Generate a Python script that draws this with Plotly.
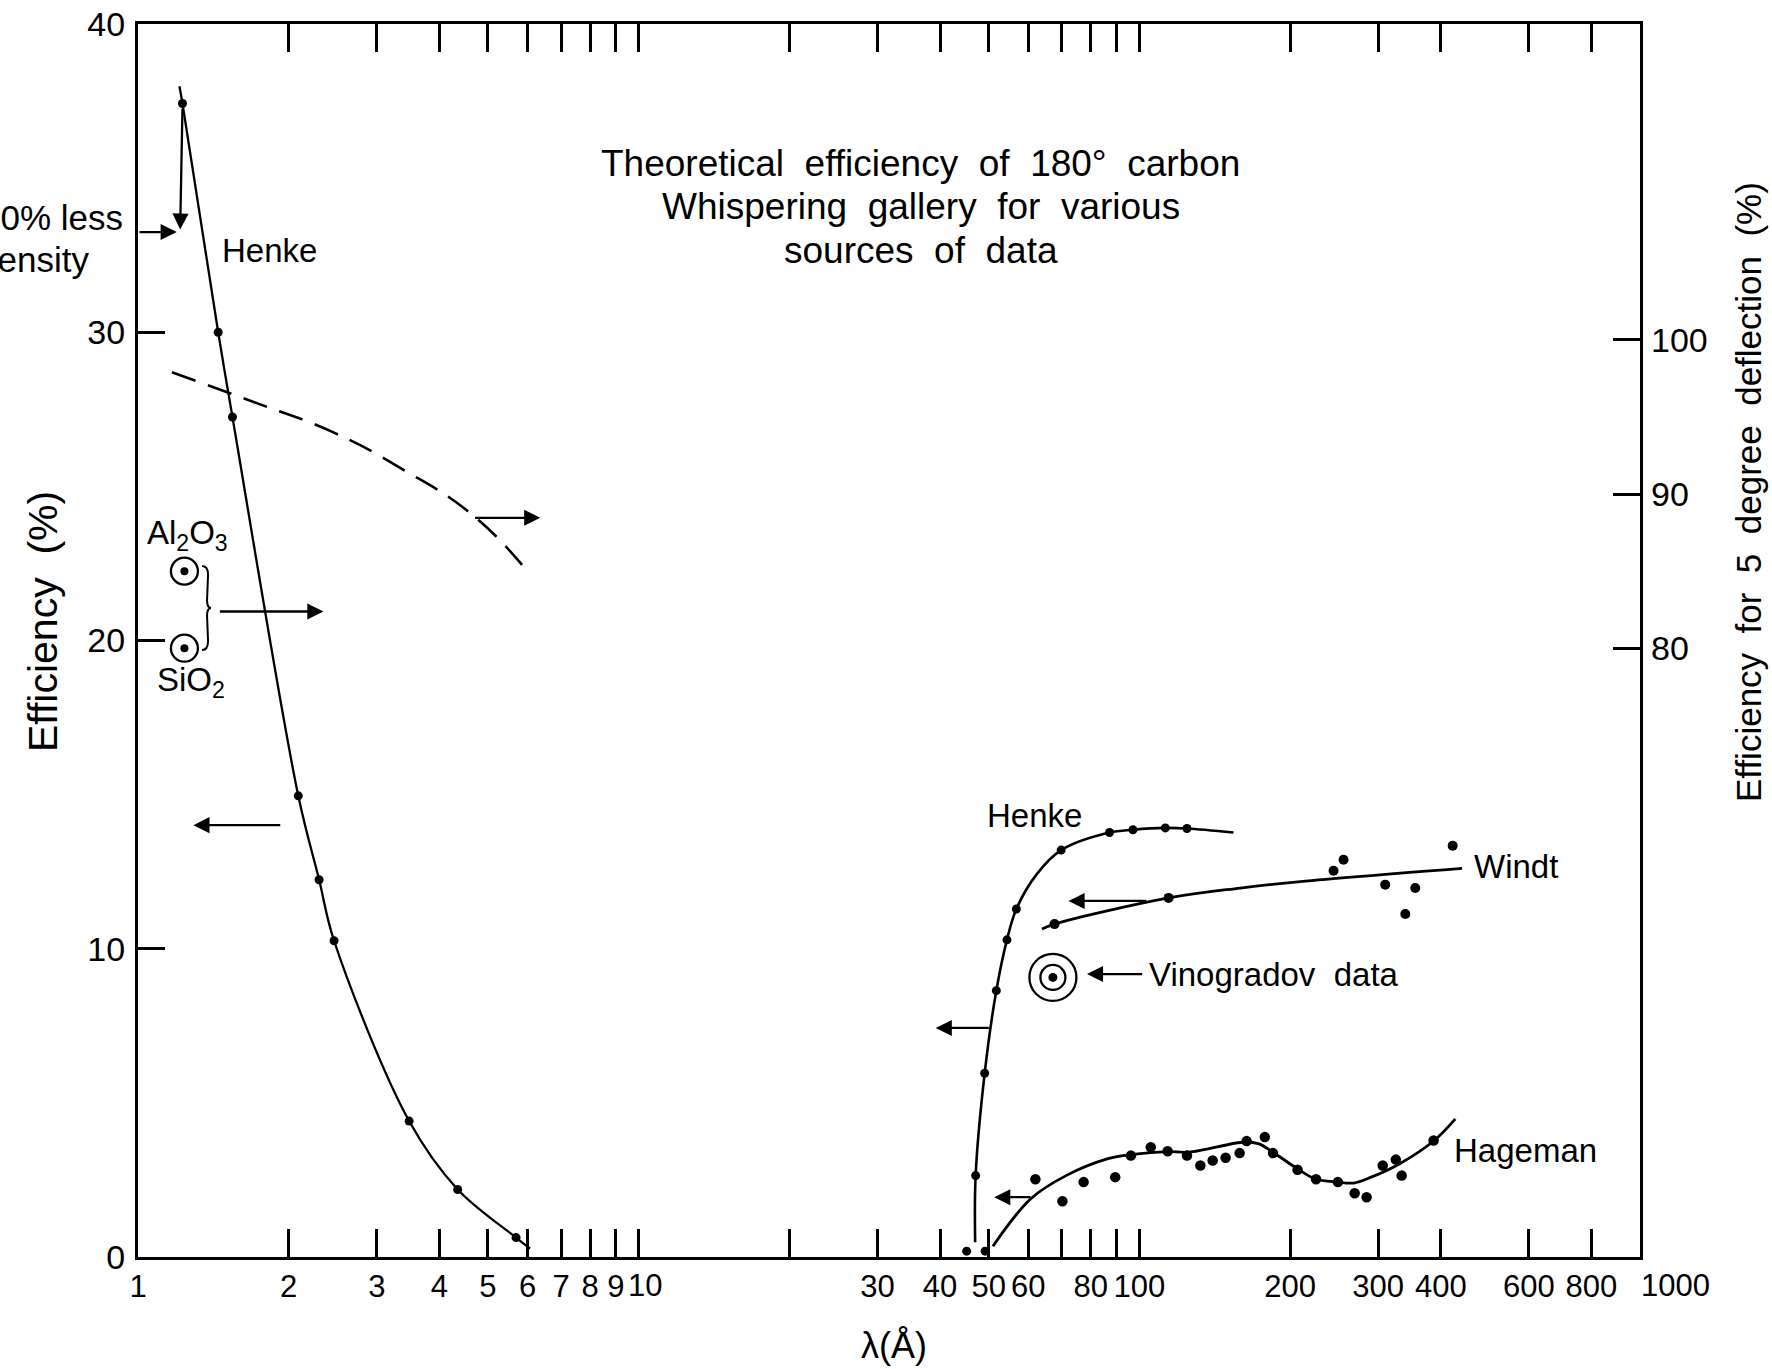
import numpy as np
import plotly.graph_objects as go

# ---------------- data ----------------
# Henke, short wavelength branch (left axis, %)
henke1_curve_x = [1.21, 1.227, 1.446, 1.544, 2.09, 2.30, 2.464, 3.48, 4.35, 5.69, 6.07]
henke1_curve_y = [37.98, 37.42, 30.0, 27.25, 14.96, 12.24, 10.26, 4.41, 2.19, 0.63, 0.27]
henke1_pts_x = [1.227, 1.446, 1.544, 2.09, 2.30, 2.464, 3.48, 4.35, 5.69]
henke1_pts_y = [37.42, 30.0, 27.25, 14.96, 12.24, 10.26, 4.41, 2.19, 0.63]

# 5 degree deflection efficiency (right axis, %), dashed
defl_x = [1.169, 1.727, 2.457, 3.339, 4.677, 6.025]
defl_y = [97.9, 95.9, 94.0, 91.7, 88.6, 84.9]

# Al2O3 / SiO2 (right axis)
oxide_names = ["Al2O3", "SiO2"]
oxide_x = [1.238, 1.238]
oxide_y = [85.0, 80.0]

# Henke, long wavelength branch
henke2_curve_x = [47.0, 47.1, 49.1, 51.8, 54.4, 56.8, 62.4, 69.8, 87.2, 97.1, 112.7, 124.5, 154.2]
henke2_curve_y = [0.48, 2.64, 5.96, 8.64, 10.29, 11.29, 12.42, 13.20, 13.77, 13.86, 13.92, 13.90, 13.77]
henke2_pts_x = [45.2, 49.2, 47.1, 49.1, 51.8, 54.4, 56.8, 69.8, 87.2, 97.1, 112.7, 124.5]
henke2_pts_y = [0.19, 0.19, 2.64, 5.96, 8.64, 10.29, 11.29, 13.20, 13.77, 13.86, 13.92, 13.90]

# Windt
windt_curve_x = [63.9, 67.7, 114.4, 159.1, 209.6, 441.0]
windt_curve_y = [10.64, 10.80, 11.65, 11.97, 12.18, 12.61]
windt_pts_x = [67.7, 114.4, 244.3, 255.8, 309.8, 339.8, 355.7, 422.5]
windt_pts_y = [10.80, 11.65, 12.53, 12.89, 12.08, 11.13, 11.97, 13.34]

# Vinogradov
vino_x = [67.2]
vino_y = [9.07]

# Hageman
hage_curve_x = [51.0, 60.7, 71.4, 86.6, 97.0, 113.9, 125.5, 162.5, 173.4, 184.9, 207.0,
                224.4, 249.2, 268.0, 290.4, 330.5, 388.2, 427.7]
hage_curve_y = [0.35, 1.89, 2.64, 3.19, 3.33, 3.42, 3.40, 3.73, 3.67, 3.40, 2.86,
                2.54, 2.43, 2.40, 2.59, 3.02, 3.78, 4.48]
hage_pts_x = [62.0, 70.2, 77.4, 89.5, 96.2, 105.4, 113.9, 124.5, 132.4, 140.1, 148.7, 158.6,
              163.8, 178.1, 184.9, 207.0, 225.4, 249.2, 269.2, 284.4, 306.3, 325.3, 334.2, 387.0]
hage_pts_y = [2.52, 1.81, 2.43, 2.59, 3.29, 3.56, 3.43, 3.29, 2.97, 3.13, 3.22, 3.37,
              3.76, 3.89, 3.37, 2.83, 2.52, 2.43, 2.07, 1.94, 2.97, 3.16, 2.64, 3.78]

# axis ticks
NB = "\u00a0"
x_tickvals = [1, 2, 3, 4, 5, 6, 7, 8, 9, 10, 20, 30, 40, 50, 60, 70, 80, 90, 100,
              200, 300, 400, 600, 800, 1000]
x_ticktext = ["1", "2", "3", "4", "5", "6", "7", "8", "9", " ", " ", "30", "40", "50",
              "60", " ", "80", " ", "100", "200", "300", "400", "600", "800", " "]
# labels that sit slightly off their tick in the reference (drawn as annotations)
x_offset_labels = ["10", "1000"]
x_offset_label_pos = [0.3376, 0.9995]   # paper x
x_offset_label_anchor = ["center", "left"]
y_tickvals = [0, 10, 20, 30, 40]
y2_tickvals = [80, 90, 100]

# arrows: (tail_x, tail_y, head_x, head_y), left-axis units
arrows = [
    (1.227, 37.3, 1.214, 33.33),
    (1.0, 33.25, 1.195, 33.25),
    (1.937, 14.01, 1.29, 14.01),
    (1.447, 20.94, 2.346, 20.94),
    (4.68, 23.98, 6.36, 23.98),
    (50.4, 7.43, 39.2, 7.43),
    (104.0, 11.55, 72.2, 11.55),
    (102.0, 9.18, 78.6, 9.18),
    (61.0, 1.94, 51.3, 1.94),
]

# ---------------- figure ----------------
BLACK = "#000000"
FONT = "Liberation Sans, Arial, sans-serif"

fig = go.Figure()

def line(x, y, width=2.5, dash=None, yaxis="y", shape="spline", smoothing=1.0):
    fig.add_trace(go.Scatter(x=x, y=y, mode="lines", yaxis=yaxis,
                             line=dict(color=BLACK, width=width, dash=dash, shape=shape,
                                       smoothing=smoothing),
                             hoverinfo="skip"))

def dots(x, y, size, yaxis="y", symbol="circle", lw=0):
    fig.add_trace(go.Scatter(x=x, y=y, mode="markers", yaxis=yaxis,
                             marker=dict(color=BLACK, size=size, symbol=symbol,
                                         line=dict(color=BLACK, width=lw)),
                             hoverinfo="skip"))

line(henke1_curve_x, henke1_curve_y, width=2.3)
dots(henke1_pts_x, henke1_pts_y, 9)

line(defl_x, defl_y, width=2.6, dash="25px,13px", yaxis="y2", smoothing=1.3)

dots(oxide_x, oxide_y, 27, yaxis="y2", symbol="circle-open", lw=2.3)
dots(oxide_x, oxide_y, 8, yaxis="y2")

line(henke2_curve_x, henke2_curve_y, width=2.6)
dots(henke2_pts_x, henke2_pts_y, 9)

line(windt_curve_x, windt_curve_y, width=2.8)
dots(windt_pts_x, windt_pts_y, 10)

dots(vino_x, vino_y, 47, symbol="circle-open", lw=2.3)
dots(vino_x, vino_y, 25, symbol="circle-open", lw=2.3)
dots(vino_x, vino_y, 9)

line(hage_curve_x, hage_curve_y, width=2.8)
dots(hage_pts_x, hage_pts_y, 10.5)

annotations = []
for tx, ty, hx, hy in arrows:
    annotations.append(dict(x=np.log10(hx), y=hy, ax=np.log10(tx), ay=ty,
                            xref="x", yref="y", axref="x", ayref="y",
                            text="", showarrow=True, arrowhead=2, arrowsize=1.4,
                            arrowwidth=2.3, arrowcolor=BLACK, standoff=0, startstandoff=0))

def label(text, x, y, xanchor="left", size=33, xref="x", yref="y", angle=0):
    xv = np.log10(x) if xref == "x" else x
    annotations.append(dict(text=text, x=xv, y=y, xref=xref, yref=yref,
                            xanchor=xanchor, yanchor="middle", showarrow=False,
                            textangle=angle,
                            font=dict(family=FONT, size=size, color=BLACK)))

label("Henke", 1.459, 32.66)
label("Henke", 49.2, 14.31)
label("Windt", 462, 12.66)
label("Vinogradov" + NB + " data", 103.7, 9.16)
label("Hageman", 421.7, 3.46)
label("Al<sub>2</sub>O<sub>3</sub>", 1.256, 23.42, xanchor="center")
label("SiO<sub>2</sub>", 1.277, 18.66, xanchor="center")

title_lines = ["Theoretical" + NB + " efficiency" + NB + " of" + NB + " 180°" + NB + " carbon",
               "Whispering" + NB + " gallery" + NB + " for" + NB + " various",
               "sources" + NB + " of" + NB + " data"]
for txt, py in zip(title_lines, [0.8865, 0.8516, 0.8159]):
    label(txt, 0.5213, py, xanchor="center", size=37, xref="paper", yref="paper")

label("10% less", -0.0085, 0.8427, xanchor="right", size=35, xref="paper", yref="paper")
label("density", -0.0315, 0.8094, xanchor="right", size=35, xref="paper", yref="paper")

label("Efficiency" + NB + " (%)", -0.0632, 0.515, xanchor="center", size=41,
      xref="paper", yref="paper", angle=-90)
label("Efficiency" + NB + " for" + NB + " 5" + NB + " degree" + NB + " deflection" + NB + " (%)",
      1.0719, 0.6204, xanchor="center", size=35, xref="paper", yref="paper", angle=-90)
label("λ(Å)", 0.5033, -0.0714, xanchor="center", size=36, xref="paper", yref="paper")
for txt, px, anc in zip(x_offset_labels, x_offset_label_pos, x_offset_label_anchor):
    label(txt, px, -0.0232, xanchor=anc, size=31, xref="paper", yref="paper")

# curly brace joining the two oxide points
shapes = [dict(type="path", xref="paper", yref="paper", xsizemode="pixel", ysizemode="pixel",
               xanchor=0.0453, yanchor=0.5264,
               path="M-4,-42 Q2,-42 2,-33 L1,-8 Q1,0 5,0 Q1,0 1,8 L2,33 Q2,42 -4,42",
               line=dict(color=BLACK, width=2))]

XTICKFONT = dict(family=FONT, size=31, color=BLACK)
YTICKFONT = dict(family=FONT, size=34, color=BLACK)
fig.update_layout(
    width=1772, height=1369,
    margin=dict(l=138, r=132, t=24, b=112, pad=0, autoexpand=False),
    paper_bgcolor="white", plot_bgcolor="white",
    showlegend=False,
    font=dict(family=FONT, color=BLACK),
    annotations=annotations,
    shapes=shapes,
    xaxis=dict(type="log", range=[0, 3], tickvals=x_tickvals, ticktext=x_ticktext,
               tickangle=0, automargin=False,
               ticks="inside", ticklen=28, tickwidth=3, tickcolor=BLACK,
               showline=True, linewidth=3, linecolor=BLACK, mirror="ticks",
               showgrid=False, zeroline=False, ticklabelstandoff=0,
               tickfont=XTICKFONT),
    yaxis=dict(range=[0, 40], tickvals=y_tickvals, ticks="inside", ticklen=27,
               tickwidth=3, tickcolor=BLACK, showline=True, linewidth=3, automargin=False,
               linecolor=BLACK, mirror=True, showgrid=False, zeroline=False,
               ticklabelstandoff=3, tickfont=YTICKFONT),
    yaxis2=dict(range=[40.5, 120.5], overlaying="y", side="right", tickvals=y2_tickvals,
                ticks="inside", ticklen=27, tickwidth=3, tickcolor=BLACK, automargin=False,
                showline=False, showgrid=False, zeroline=False, ticklabelstandoff=10,
                tickfont=YTICKFONT),
)

fig.write_html("out.html")
